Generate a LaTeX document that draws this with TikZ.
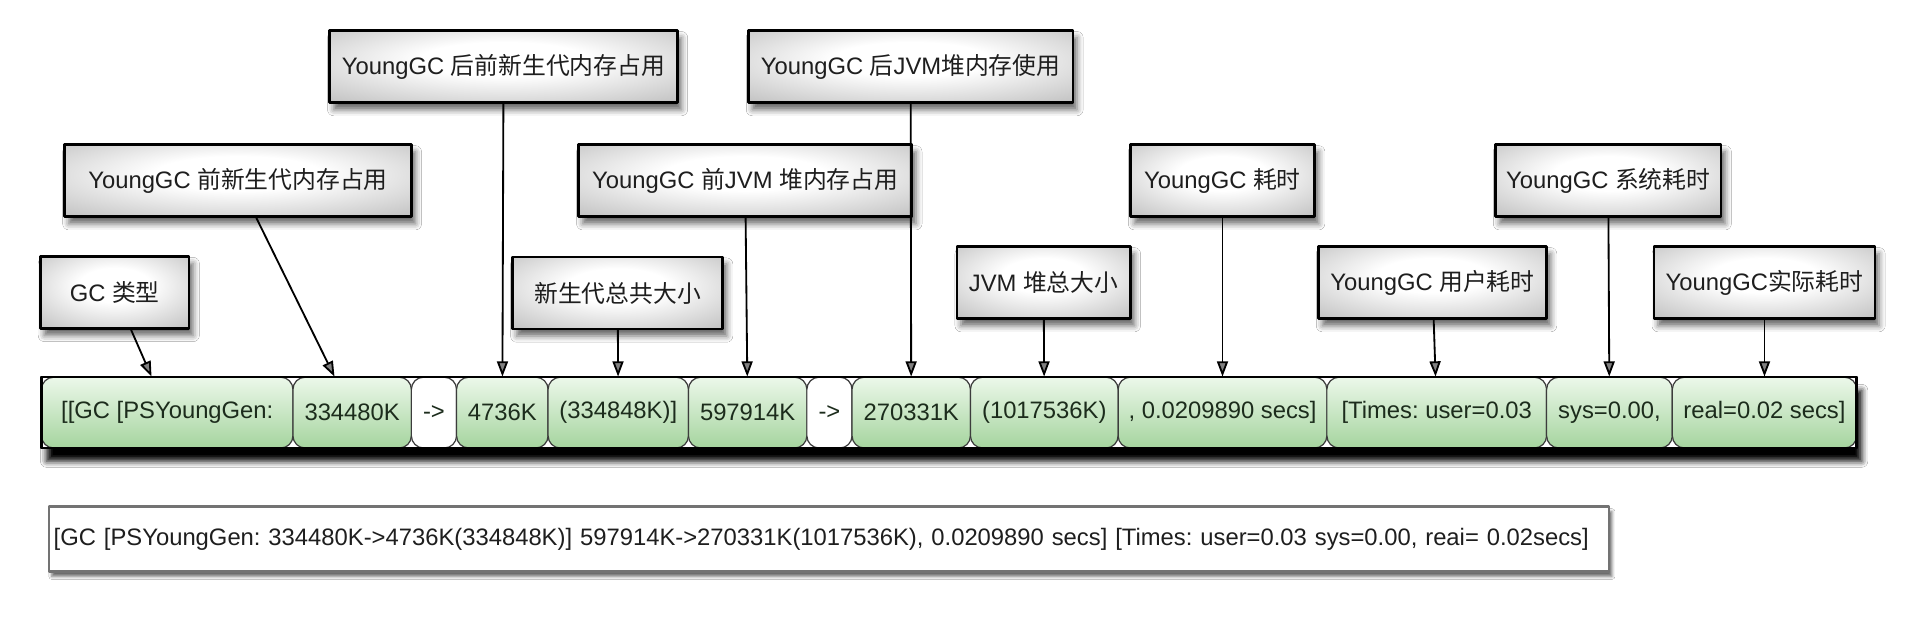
\documentclass[tikz,border=0pt]{standalone}
\usepackage{fontspec}
\setmainfont{Liberation Sans}
\newfontfamily\cjk{Noto Sans CJK SC}
\newcommand{\zhtext}[1]{{\cjk #1}}
\usepackage{tikz}
\usetikzlibrary{arrows.meta,shadows.blur}
\definecolor{celltop}{RGB}{236,248,234}
\definecolor{cellbot}{RGB}{165,212,158}
\definecolor{cellline}{RGB}{60,60,60}
\definecolor{txtgray}{RGB}{30,30,30}
\definecolor{celltxt}{RGB}{28,44,28}
\pgfdeclareradialshading{boxshade}{\pgfpoint{0bp}{6bp}}{color(0bp)=(white); color(12bp)=(white); color(50bp)=(black!36); color(72bp)=(black!52)}
\frenchspacing

\begin{document}
\begin{tikzpicture}[line cap=round,line join=round,>={Triangle[length=7.5pt,width=5.4pt]},x=0.6pt,y=-0.6pt,
    font=\fontsize{11.7}{14}\selectfont,
    lbl/.style={draw=black,line width=1.2pt,shading=boxshade,minimum height=35.4pt,inner sep=0pt,text=txtgray,
      blur shadow={shadow xshift=2pt,shadow yshift=-3.5pt,shadow blur radius=3pt,shadow opacity=60}},
    cell/.style={draw=cellline,line width=0.6pt,rounded corners=6pt,top color=celltop,bottom color=cellbot,
      minimum height=34.8pt,inner sep=0pt,text=celltxt},
    arrowcell/.style={cell,top color=white,bottom color=white},
    conn/.style={->,line width=0.9pt}]
        \fill[white] (0,0) rectangle (1568,507);
        \useasboundingbox (0,0) rectangle (1568,507);
        % the log line, cut into its fields
        \path[fill=white,draw=black,line width=1.2pt,
          blur shadow={shadow xshift=2.5pt,shadow yshift=-6.5pt,shadow blur radius=3pt,shadow opacity=100}] (34,309) rectangle (1521,367);
        \node[cell,minimum width=123.6pt] (cgc) at (137,338) {[[GC [PSYoungGen:};
        \node[cell,minimum width=58.2pt] (cyb) at (288.5,338) {334480K};
        \node[arrowcell,minimum width=22.2pt] (carr1) at (355.5,338) {->};
        \node[cell,minimum width=45pt] (cya) at (411.5,338) {4736K};
        \node[cell,minimum width=69pt] (cyt) at (506.5,338) {(334848K)]};
        \node[cell,minimum width=58.2pt] (chb) at (612.5,338) {597914K};
        \node[arrowcell,minimum width=22.2pt] (carr2) at (679.5,338) {->};
        \node[cell,minimum width=58.2pt] (cha) at (746.5,338) {270331K};
        \node[cell,minimum width=72.6pt] (cht) at (855.5,338) {(1017536K)};
        \node[cell,minimum width=102.6pt] (ctime) at (1001.5,338) {, 0.0209890 secs]};
        \node[cell,minimum width=108pt] (cuser) at (1177,338) {[Times: user=0.03};
        \node[cell,minimum width=61.8pt] (csys) at (1318.5,338) {sys=0.00,};
        \node[cell,minimum width=90.6pt] (creal) at (1445.5,338) {real=0.02 secs]};
        \draw[line width=1.2pt] (34,309) rectangle (1521,367);
        % labels
        \node[lbl,minimum width=73.2pt] (lgc) at (94,239.5) {GC \zhtext{类型}};
        \node[lbl,minimum width=170.4pt] (lyb) at (195,148) {YoungGC \zhtext{前新生代内存占用}};
        \node[lbl,minimum width=171pt] (lya) at (412.5,54.5) {YoungGC \zhtext{后前新生代内存占用}};
        \node[lbl,minimum width=103.2pt] (lyt) at (506,240) {\zhtext{新生代总共大小}};
        \node[lbl,minimum width=163.8pt] (lhb) at (610.5,148) {YoungGC \zhtext{前}JVM \zhtext{堆内存占用}};
        \node[lbl,minimum width=159.6pt] (lha) at (746,54.5) {YoungGC \zhtext{后}JVM\zhtext{堆内存使用}};
        \node[lbl,minimum width=85.2pt] (lht) at (855,231.5) {JVM \zhtext{堆总大小}};
        \node[lbl,minimum width=90.6pt] (ltime) at (1001.5,148) {YoungGC \zhtext{耗时}};
        \node[lbl,minimum width=112.2pt] (luser) at (1173.5,231.5) {YoungGC \zhtext{用户耗时}};
        \node[lbl,minimum width=111pt] (lsys) at (1317.5,148) {YoungGC \zhtext{系统耗时}};
        \node[lbl,minimum width=108.6pt] (lreal) at (1445.5,231.5) {YoungGC\zhtext{实际耗时}};
        \draw[conn] (lgc) -- (cgc);
        \draw[conn] (lyb) -- (cyb);
        \draw[conn] (lya) -- (cya);
        \draw[conn] (lyt) -- (cyt);
        \draw[conn] (lhb) -- (chb);
        \draw[conn] (lha) -- (cha);
        \draw[conn] (lht) -- (cht);
        \draw[conn] (ltime) -- (ctime);
        \draw[conn] (luser) -- (cuser);
        \draw[conn] (lsys) -- (csys);
        \draw[conn] (lreal) -- (creal);
        % the whole line
        \node[draw=black!55,line width=1.2pt,fill=white,text width=762pt,align=left,inner xsep=2.4pt,
          minimum height=31.8pt,text=txtgray,
          blur shadow={shadow xshift=1.5pt,shadow yshift=-2.5pt,shadow blur radius=1.5pt,shadow opacity=60}] (full) at (679,441.5)
          {[GC [PSYoungGen: 334480K->4736K(334848K)] 597914K->270331K(1017536K), 0.0209890 secs] [Times: user=0.03 sys=0.00, reai= 0.02secs]};
    \end{tikzpicture}
\end{document}
